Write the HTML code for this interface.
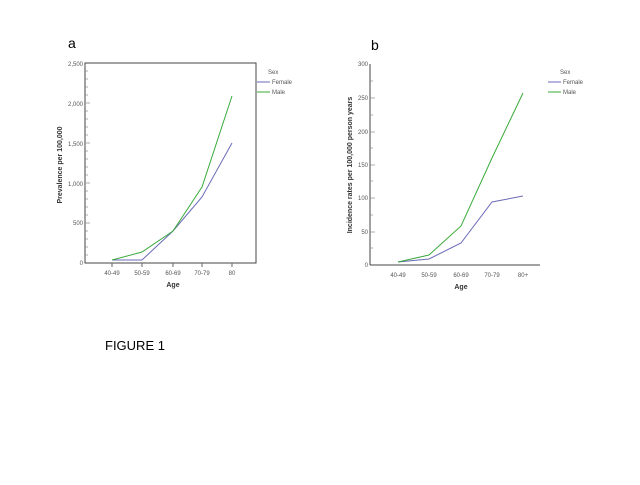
<!DOCTYPE html>
<html><head><style>
body{margin:0;background:#fff;width:640px;height:480px;overflow:hidden}
svg text{font-family:"Liberation Sans",sans-serif}
</style></head><body>
<svg width="640" height="480" xmlns="http://www.w3.org/2000/svg">
<text x="68" y="48" font-size="14">a</text>
<text x="371" y="50" font-size="14">b</text>
<text x="105" y="350" font-size="13">FIGURE 1</text>
<!-- chart a -->
<rect x="85" y="63" width="171" height="200" fill="none" stroke="#444" stroke-width="1"/>
<g stroke="#888" stroke-width="0.7">
<line x1="85" y1="255" x2="88" y2="255"/><line x1="85" y1="247" x2="88" y2="247"/><line x1="85" y1="239" x2="88" y2="239"/><line x1="85" y1="231" x2="88" y2="231"/><line x1="85" y1="223" x2="90" y2="223"/>
<line x1="85" y1="215" x2="88" y2="215"/><line x1="85" y1="207" x2="88" y2="207"/><line x1="85" y1="199" x2="88" y2="199"/><line x1="85" y1="191" x2="88" y2="191"/><line x1="85" y1="183" x2="90" y2="183"/>
<line x1="85" y1="175" x2="88" y2="175"/><line x1="85" y1="167" x2="88" y2="167"/><line x1="85" y1="159" x2="88" y2="159"/><line x1="85" y1="151" x2="88" y2="151"/><line x1="85" y1="143" x2="90" y2="143"/>
<line x1="85" y1="135" x2="88" y2="135"/><line x1="85" y1="127" x2="88" y2="127"/><line x1="85" y1="119" x2="88" y2="119"/><line x1="85" y1="111" x2="88" y2="111"/><line x1="85" y1="103" x2="90" y2="103"/>
<line x1="85" y1="95" x2="88" y2="95"/><line x1="85" y1="87" x2="88" y2="87"/><line x1="85" y1="79" x2="88" y2="79"/><line x1="85" y1="71" x2="88" y2="71"/>
</g>
<g font-size="6" fill="#555" text-anchor="end">
<text x="83" y="265">0</text><text x="83" y="225">500</text><text x="83" y="186">1,000</text>
<text x="83" y="146">1,500</text><text x="83" y="106">2,000</text><text x="83" y="66">2,500</text>
</g>
<g stroke="#666"><line x1="112" y1="263" x2="112" y2="267"/><line x1="142" y1="263" x2="142" y2="267"/><line x1="173" y1="263" x2="173" y2="267"/><line x1="202" y1="263" x2="202" y2="267"/><line x1="232" y1="263" x2="232" y2="267"/></g>
<g font-size="6" fill="#555" text-anchor="middle">
<text x="112" y="275">40-49</text><text x="142" y="275">50-59</text><text x="173" y="275">60-69</text><text x="202" y="275">70-79</text><text x="232" y="275">80</text>
</g>
<text x="173" y="287" font-size="7" font-weight="bold" text-anchor="middle" fill="#333">Age</text>
<text transform="translate(62,165) rotate(-90)" font-size="7" font-weight="bold" text-anchor="middle" fill="#333">Prevalence per 100,000</text>
<polyline points="112,260 142,260 173,231 202,197 232,143" fill="none" stroke="#6a6ab8" stroke-width="1"/>
<polyline points="112,260 142,252 173,231 202,187 232,96" fill="none" stroke="#3aaa3a" stroke-width="1"/>
<text x="268" y="74" font-size="6" fill="#555">Sex</text>
<line x1="257" y1="82" x2="270" y2="82" stroke="#6a6ab8"/><text x="272" y="84" font-size="6" fill="#555">Female</text>
<line x1="257" y1="92" x2="270" y2="92" stroke="#3aaa3a"/><text x="272" y="94" font-size="6" fill="#555">Male</text>
<!-- chart b -->
<line x1="370" y1="64" x2="370" y2="265" stroke="#444"/>
<line x1="370" y1="265" x2="540" y2="265" stroke="#444"/>
<g stroke="#888" stroke-width="0.7">
<line x1="370" y1="248" x2="373" y2="248"/><line x1="370" y1="232" x2="375" y2="232"/><line x1="370" y1="215" x2="373" y2="215"/><line x1="370" y1="198" x2="375" y2="198"/>
<line x1="370" y1="181" x2="373" y2="181"/><line x1="370" y1="165" x2="375" y2="165"/><line x1="370" y1="148" x2="373" y2="148"/><line x1="370" y1="132" x2="375" y2="132"/>
<line x1="370" y1="115" x2="373" y2="115"/><line x1="370" y1="98" x2="375" y2="98"/><line x1="370" y1="81" x2="373" y2="81"/>
</g>
<g font-size="6" fill="#555" text-anchor="end">
<text x="368" y="267">0</text><text x="368" y="234">50</text><text x="368" y="200">100</text>
<text x="368" y="167">150</text><text x="368" y="134">200</text><text x="368" y="100">250</text><text x="368" y="66">300</text>
</g>
<g font-size="6" fill="#555" text-anchor="middle">
<text x="398" y="277">40-49</text><text x="429" y="277">50-59</text><text x="461" y="277">60-69</text><text x="492" y="277">70-79</text><text x="523" y="277">80+</text>
</g>
<text x="461" y="289" font-size="7" font-weight="bold" text-anchor="middle" fill="#333">Age</text>
<text transform="translate(352,165) rotate(-90)" font-size="7" font-weight="bold" text-anchor="middle" fill="#333">Incidence rates per 100,000 person years</text>
<polyline points="398,262 429,259 461,243 492,202 523,196" fill="none" stroke="#6a6ab8" stroke-width="1"/>
<polyline points="398,262 429,255 461,226 492,158 523,93" fill="none" stroke="#3aaa3a" stroke-width="1"/>
<text x="560" y="74" font-size="6" fill="#555">Sex</text>
<line x1="548" y1="82" x2="561" y2="82" stroke="#6a6ab8"/><text x="563" y="84" font-size="6" fill="#555">Female</text>
<line x1="548" y1="92" x2="561" y2="92" stroke="#3aaa3a"/><text x="563" y="94" font-size="6" fill="#555">Male</text>
</svg>
</body></html>
